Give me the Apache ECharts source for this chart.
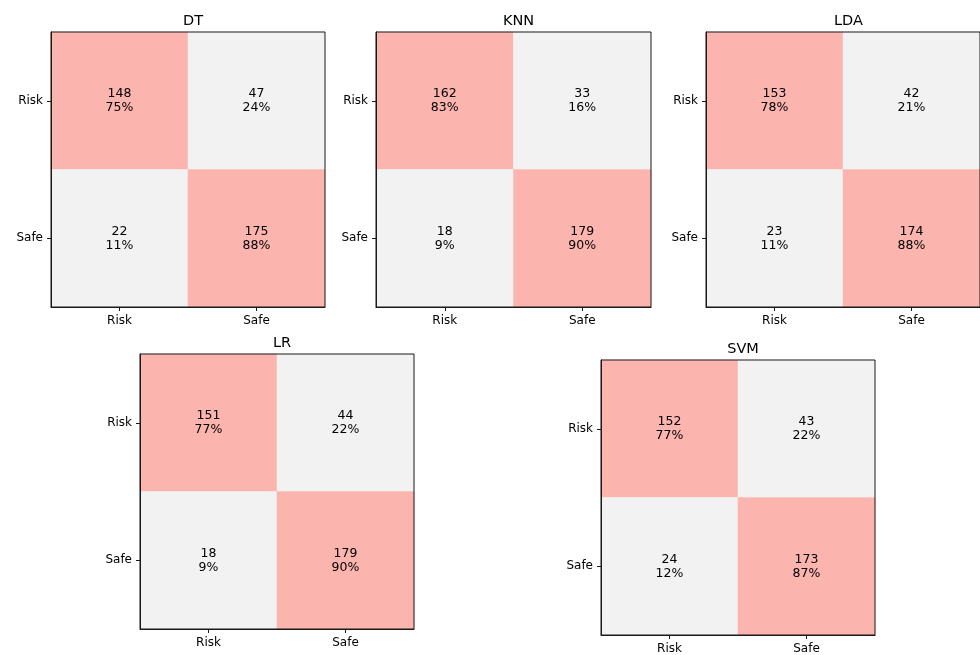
<!DOCTYPE html>
<html>
<head>
<meta charset="utf-8">
<script src="https://cdn.jsdelivr.net/npm/echarts@6/dist/echarts.min.js"></script>
<style>
html,body{margin:0;padding:0;background:#fff;}
#chart{width:980px;height:655px;}
</style>
</head>
<body>
<div id="chart"></div>
<script>
const models = ['DT', 'KNN', 'LDA', 'LR', 'SVM'];
const classes = ['Risk', 'Safe'];
// rows = true class (Risk, Safe), columns = predicted class (Risk, Safe)
const countsDT  = [[148, 47], [22, 175]];
const countsKNN = [[162, 33], [18, 179]];
const countsLDA = [[153, 42], [23, 174]];
const countsLR  = [[151, 44], [18, 179]];
const countsSVM = [[152, 43], [24, 173]];
const pctDT  = [[75, 24], [11, 88]];
const pctKNN = [[83, 16], [9, 90]];
const pctLDA = [[78, 21], [11, 88]];
const pctLR  = [[77, 22], [9, 90]];
const pctSVM = [[77, 22], [12, 87]];

const allCounts = [countsDT, countsKNN, countsLDA, countsLR, countsSVM];
const allPct = [pctDT, pctKNN, pctLDA, pctLR, pctSVM];

// layout (pixels)
const boxes = [
  {left: 51,  top: 32,  width: 274, height: 275, titleTop: 9},
  {left: 376, top: 32,  width: 275, height: 275, titleTop: 9},
  {left: 706, top: 32,  width: 275, height: 275, titleTop: 9},
  {left: 140, top: 354, width: 274, height: 275, titleTop: 331},
  {left: 601, top: 360, width: 274, height: 275, titleTop: 337}
];

const FONT = 'DejaVu Sans';
const title = [], grid = [], xAxis = [], yAxis = [], series = [];
models.forEach((m, i) => {
  const b = boxes[i];
  title.push({
    text: m, left: b.left + b.width / 2, top: b.titleTop, textAlign: 'center',
    textStyle: {fontFamily: FONT, fontSize: 14.5, fontWeight: 'normal', color: '#000'}
  });
  grid.push({
    left: b.left, top: b.top, width: b.width, height: b.height,
    show: true, borderColor: '#1a1a1a', borderWidth: 1, backgroundColor: 'transparent', z: 10
  });
  const axisCommon = {
    type: 'category', data: classes, gridIndex: i,
    axisLine: {show: true, lineStyle: {color: '#1a1a1a', width: 1}},
    axisTick: {show: true, alignWithLabel: true, length: 4, lineStyle: {color: '#1a1a1a'}},
    axisLabel: {fontFamily: FONT, fontSize: 12, color: '#000', margin: 8},
    splitLine: {show: false}, splitArea: {show: false}, z: 10
  };
  xAxis.push(Object.assign({}, axisCommon, {position: 'bottom'}));
  yAxis.push(Object.assign({}, axisCommon, {inverse: true, position: 'left'}));
  const data = [];
  allCounts[i].forEach((row, r) => row.forEach((v, c) => data.push([c, r, v, allPct[i][r][c]])));
  series.push({
    type: 'heatmap', xAxisIndex: i, yAxisIndex: i, data: data,
    label: {
      show: true, fontFamily: FONT, fontSize: 12.5, color: '#000', lineHeight: 14,
      formatter: p => p.value[2] + '\n' + p.value[3] + '%'
    },
    itemStyle: {borderWidth: 0},
    emphasis: {disabled: true}
  });
});

const chart = echarts.init(document.getElementById('chart'), null, {renderer: 'canvas'});
chart.setOption({
  animation: false,
  backgroundColor: '#fff',
  title, grid, xAxis, yAxis, series,
  visualMap: {
    type: 'piecewise', show: false, dimension: 2,
    pieces: [{min: 100, color: '#fbb4ae'}, {max: 100, color: '#f2f2f2'}]
  }
});
</script>
</body>
</html>
